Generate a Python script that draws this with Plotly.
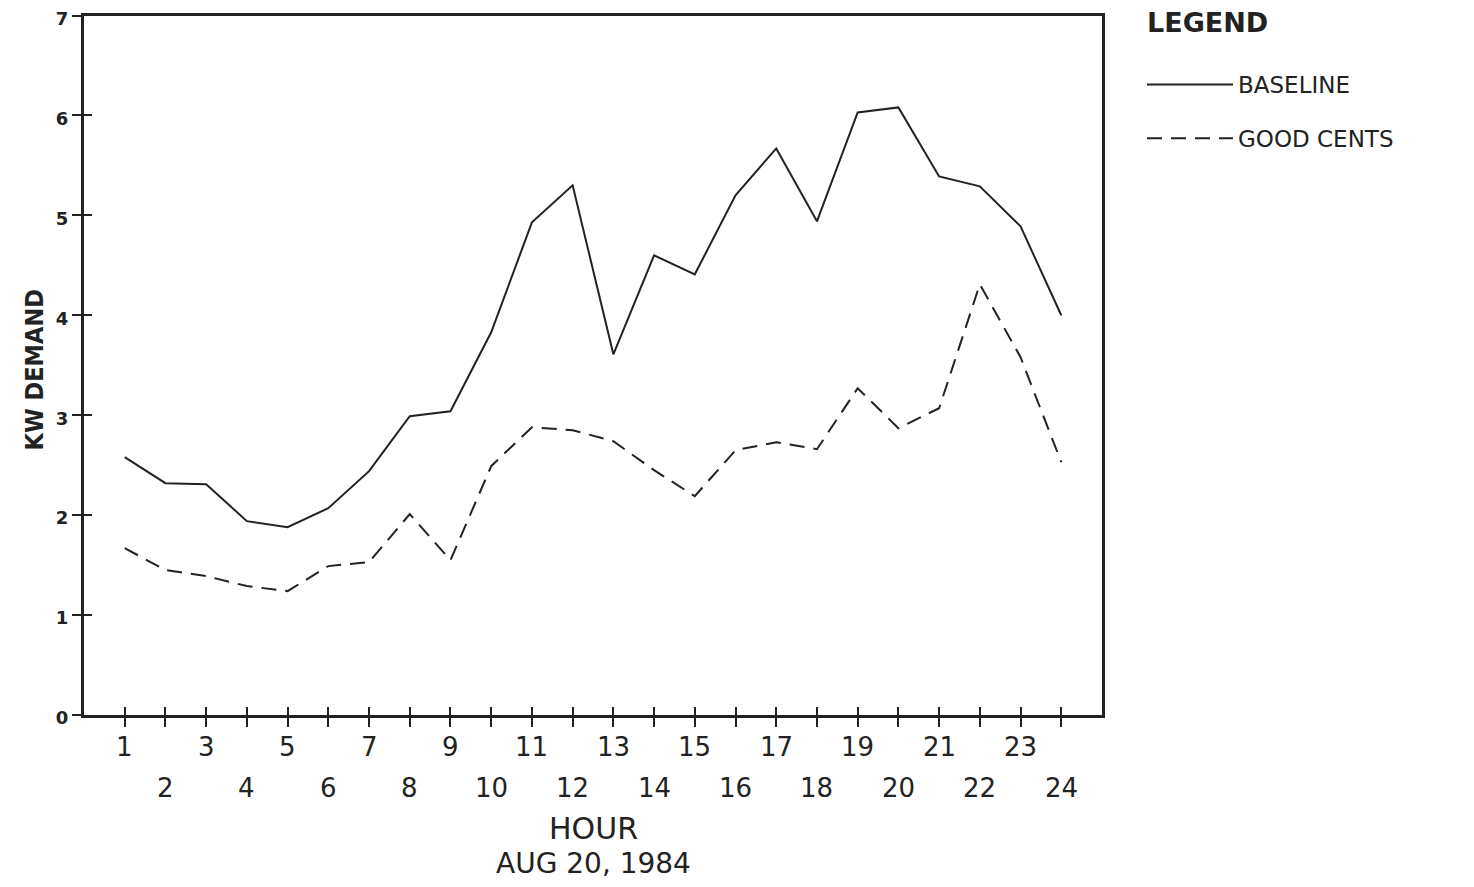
import plotly.graph_objects as go

hours = list(range(1, 25))
baseline = [2.58, 2.32, 2.31, 1.94, 1.88, 2.07, 2.44, 2.99, 3.04, 3.83, 4.93, 5.30,
            3.61, 4.60, 4.41, 5.20, 5.67, 4.94, 6.03, 6.08, 5.39, 5.29, 4.89, 4.00]
good_cents = [1.67, 1.45, 1.39, 1.29, 1.24, 1.49, 1.53, 2.01, 1.55, 2.49, 2.88, 2.85,
              2.74, 2.45, 2.19, 2.65, 2.73, 2.66, 3.27, 2.87, 3.07, 4.31, 3.58, 2.53]
y_ticks = list(range(0, 8))
hour_labels = [str(h) for h in hours]

INK = "#222222"
FONT = "DejaVu Sans"

# figure geometry (pixels); page body adds an 8px margin around the figure
W, H = 1458, 871
ML, MR, MT, MB = 76, 364, 0, 164
PAPER_H = H - MT - MB
PLOT_W = W - ML - MR
PLOT_TOP = 7.5
Y_DOMAIN_TOP = (PAPER_H - PLOT_TOP) / PAPER_H

fig = go.Figure()
fig.add_trace(go.Scatter(x=hours, y=baseline, mode="lines", name="BASELINE",
                         legendgroup="a",
                         line=dict(color=INK, width=2)))
fig.add_trace(go.Scatter(x=hours, y=good_cents, mode="lines", name="GOOD CENTS",
                         legendgroup="b",
                         line=dict(color=INK, width=2, dash="15px,9px")))
# invisible helper trace so the overlaying axes (inner tick halves) are drawn
fig.add_trace(go.Scatter(x=hours, y=baseline, mode="lines", xaxis="x2", yaxis="y2",
                         line=dict(color="rgba(0,0,0,0)"), showlegend=False,
                         hoverinfo="skip"))

annotations = []
for h, lab in zip(hours, hour_labels):
    annotations.append(dict(x=h, xref="x", y=0, yref="paper", text=lab,
                            showarrow=False, yanchor="middle",
                            yshift=-32 if h % 2 == 1 else -73,
                            font=dict(family=FONT, size=26, color=INK)))
annotations += [
    dict(x=0.5, xref="paper", y=0, yref="paper", text="HOUR", showarrow=False,
         yanchor="middle", yshift=-113, font=dict(family=FONT, size=30, color=INK)),
    dict(x=0.5, xref="paper", y=0, yref="paper", text="AUG 20, 1984", showarrow=False,
         yanchor="middle", yshift=-148, font=dict(family=FONT, size=28, color=INK)),
    dict(x=-50.5 / PLOT_W, xref="paper", y=(PAPER_H - 362) / PAPER_H, yref="paper",
         text="<b>KW DEMAND</b>",
         showarrow=False, textangle=-90, xanchor="center", yanchor="middle",
         font=dict(family="Liberation Sans Narrow, DejaVu Sans Condensed, Liberation Sans",
                   size=25, color=INK)),
    dict(x=(1137 - ML) / PLOT_W, xref="paper", y=(PAPER_H - 14) / PAPER_H, yref="paper",
         text="<b>LEGEND</b>", showarrow=False, xanchor="left", yanchor="middle",
         font=dict(family=FONT, size=27, color=INK)),
]

axis_common = dict(showgrid=False, zeroline=False, color=INK, automargin=False)
fig.update_layout(
    width=W, height=H,
    margin=dict(l=ML, r=MR, t=MT, b=MB),
    paper_bgcolor="white", plot_bgcolor="white",
    xaxis=dict(range=[0, 25], tickvals=hours, showticklabels=False,
               ticks="outside", ticklen=9, tickwidth=2, tickcolor=INK,
               showline=True, linewidth=3, linecolor=INK, mirror=True, **axis_common),
    yaxis=dict(range=[0, 7], domain=[0, Y_DOMAIN_TOP], tickvals=y_ticks,
               ticks="outside", ticklen=9, tickwidth=2, ticklabeloverflow="allow",
               ticklabelshift=3,
               tickcolor=INK, showline=True, linewidth=3, linecolor=INK, mirror=True,
               tickfont=dict(family=FONT, size=18, color=INK, weight="bold"),
               **axis_common),
    xaxis2=dict(range=[0, 25], tickvals=hours, showticklabels=False, overlaying="x",
                side="bottom", anchor="y2", ticks="inside", ticklen=8, tickwidth=2,
                tickcolor=INK, showline=False, **axis_common),
    yaxis2=dict(range=[0, 7], domain=[0, Y_DOMAIN_TOP], tickvals=y_ticks[1:],
                showticklabels=False,
                overlaying="y", side="left", anchor="x2", ticks="inside", ticklen=8,
                tickwidth=2, tickcolor=INK, showline=False, **axis_common),
    showlegend=True,
    legend=dict(x=(1134 - ML) / PLOT_W, y=(PAPER_H - 55) / PAPER_H,
                xanchor="left", yanchor="top",
                font=dict(family=FONT, size=23, color=INK),
                itemwidth=86, tracegroupgap=21, bgcolor="rgba(0,0,0,0)"),
    annotations=annotations,
)

fig.write_html("out.html")
